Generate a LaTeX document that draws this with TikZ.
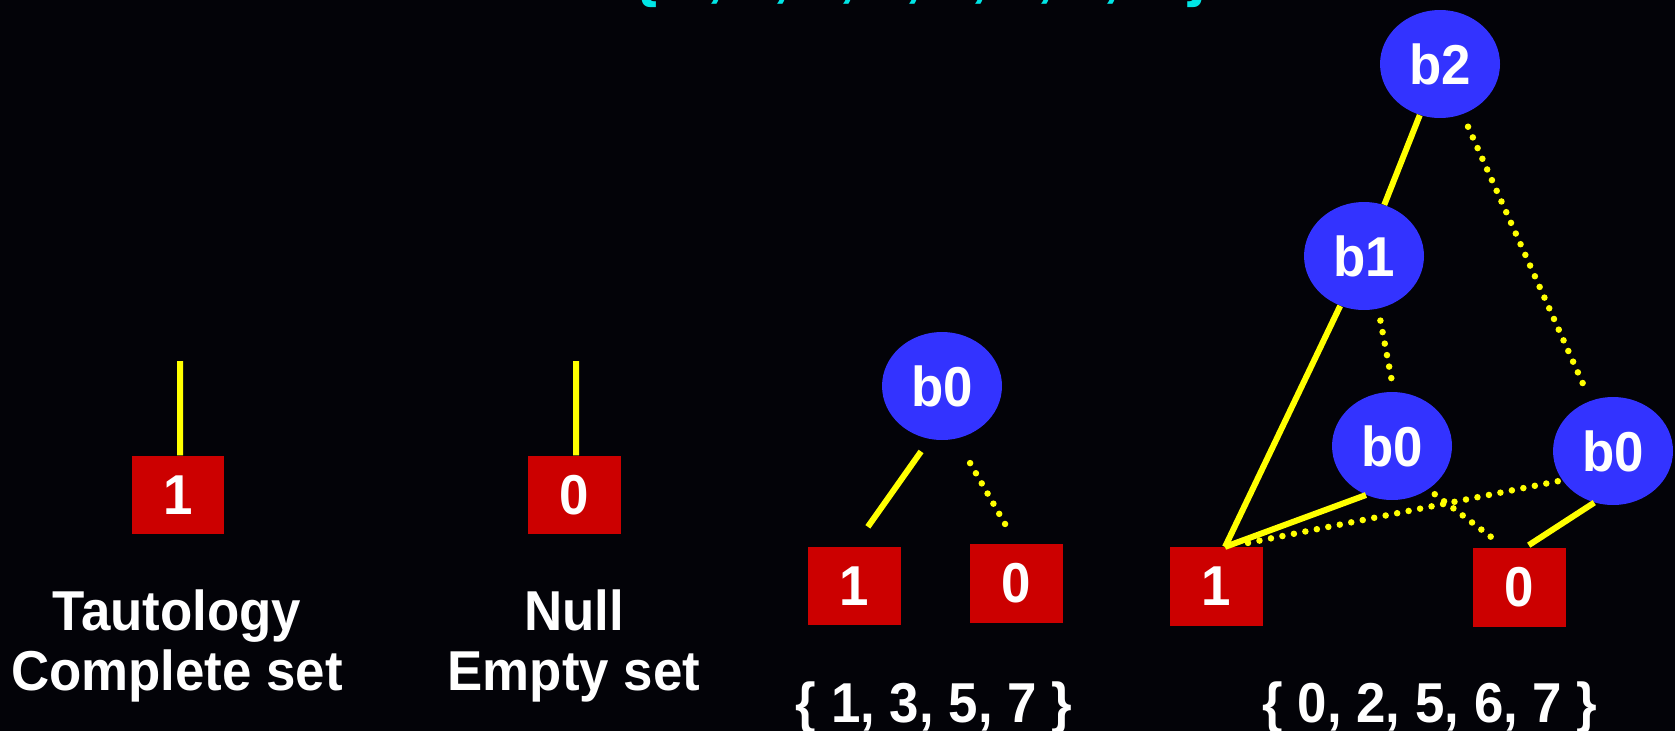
\documentclass[tikz,border=0pt]{standalone}
\usepackage{fontspec}
\usetikzlibrary{shapes.geometric}
\newfontfamily\lblfont{Liberation Sans}[FakeStretch=0.94]
\newcommand\capfont{\lblfont\bfseries\fontsize{32}{38}\selectfont}
\newcommand\headfont{\lblfont\bfseries\fontsize{36}{42}\selectfont}
\definecolor{bg}{HTML}{030308}
\definecolor{nodeblue}{HTML}{3333FF}
\definecolor{boxred}{HTML}{CC0000}
\definecolor{wire}{HTML}{FFFF00}
\definecolor{titlecyan}{HTML}{00E5E5}
\tikzset{
  var/.style={ellipse, fill=nodeblue, minimum width=2.4cm, minimum height=2.16cm,
    inner sep=0pt, text=white, font=\capfont},
  term/.style={rectangle, fill=boxred, minimum width=1.86cm, minimum height=1.57cm,
    inner sep=0pt, text=white, font=\capfont},
  hi/.style={draw=wire, line width=0.12cm},
  lo/.style={draw=wire, line width=0.13cm, line cap=round, dash pattern=on 0pt off 0.234cm},
  caption/.style={anchor=base, text=white, font=\capfont, inner sep=0pt},
}
\begin{document}
\begin{tikzpicture}[x=0.02cm, y=-0.02cm]
  % frame and background
  \useasboundingbox (0,0) rectangle (1675,731);
  \clip (0,0) rectangle (1675,731);
  \fill[bg] (0,0) rectangle (1675,731);

  % heading, mostly above the frame
  \node[anchor=base, text=titlecyan, font=\headfont, inner sep=0pt] (head) at (922,-6)
    {\{ 0, 1, 2, 3, 4, 5, 6, 7 \}};

  % constant functions
  \node[term] (t1) at (178,495) {1};
  \node[term] (t0) at (574,495) {0};
  \coordinate (t1top) at (180,361);
  \coordinate (t0top) at (576,361);
  \draw[hi] (t1top) -- ([xshift=0.04cm]t1.north);
  \draw[hi] (t0top) -- ([xshift=0.04cm]t0.north);
  \node[caption] (c1a) at (177,630) {Tautology};
  \node[caption] (c1b) at (177,690) {Complete set};
  \node[caption] (c0a) at (574,630) {Null};
  \node[caption] (c0b) at (574,690) {Empty set};

  % single-variable diagram
  \node[var]  (m0) at (942,386) {b0};
  \node[term] (m1) at (854,586) {1};
  \node[term] (m2) at (1016.5,583.5) {0};
  \draw[hi, shorten <=0.3cm, shorten >=0.48cm] (m0.257) -- (m1.north);
  \draw[lo, shorten <=0.56cm, shorten >=0.38cm] (m0.285) -- (m2.north);
  \node[caption] (mset) at (934,722) {\{ 1, 3, 5, 7 \}};

  % three-variable diagram
  \node[var]  (b2) at (1440,64) {b2};
  \node[var]  (b1) at (1364,256) {b1};
  \node[var]  (l0) at (1392,446) {b0};
  \node[var]  (r0) at (1613,451) {b0};
  \node[term] (q1) at (1216,586.5) {1};
  \node[term] (q0) at (1519.5,587.5) {0};

  \draw[hi] (b2) -- (b1);
  \draw[lo, shorten <=0.27cm, shorten >=0.16cm] (b2) -- (r0);
  \draw[hi] (b1) -- ([xshift=0.18cm]q1.north);
  \draw[lo, shorten <=0.24cm, shorten >=0.14cm] (b1.285) -- (l0.88);
  \draw[hi] (l0.242) -- ([xshift=0.18cm]q1.north);
  \draw[lo, shorten <=0.16cm, shorten >=0.26cm] (l0.310) -- ([xshift=-0.28cm]q0.north);
  \draw[lo, shorten >=0.02cm] ([xshift=0.64cm,yshift=0.08cm]q1.north) -- (r0.210);
  \draw[hi, shorten >=0.1cm] (r0.250) -- ([xshift=0.1cm]q0.north);
  \node[caption] (rset) at (1430,722) {\{ 0, 2, 5, 6, 7 \}};
\end{tikzpicture}
\end{document}
